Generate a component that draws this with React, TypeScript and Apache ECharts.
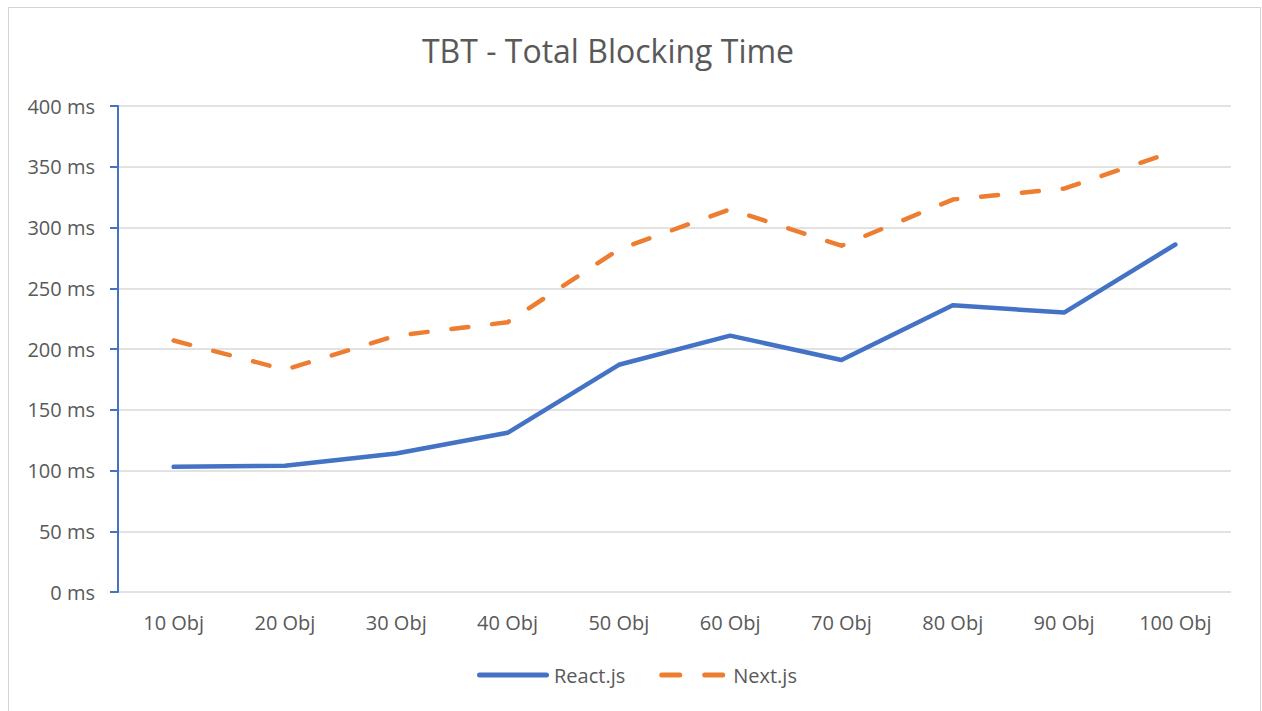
import React, { useEffect, useRef } from "react";
import * as echarts from "echarts";

const categories = ["10 Obj", "20 Obj", "30 Obj", "40 Obj", "50 Obj", "60 Obj", "70 Obj", "80 Obj", "90 Obj", "100 Obj"];
const reactValues = [103, 104, 114, 131, 187, 211, 191, 236, 230, 286];
const nextValues = [207, 183, 211, 222, 282, 315, 285, 323, 332, 363];
const titleText = "TBT - Total Blocking Time";
const FONT = "'Open Sans', 'Noto Sans', sans-serif";
const TEXT = "#595959";

const SOLID_ICON = "path://M2.5 0H69.5A2.5 2.5 0 0 1 69.5 5H2.5A2.5 2.5 0 0 1 2.5 0Z";
const DASH_ICON =
  "path://M2.5 0H20.5A2.5 2.5 0 0 1 20.5 5H2.5A2.5 2.5 0 0 1 2.5 0Z M45.5 0H63.5A2.5 2.5 0 0 1 63.5 5H45.5A2.5 2.5 0 0 1 45.5 0Z";

export default function App() {
  const ref = useRef<HTMLDivElement>(null);
  useEffect(() => {
    if (!ref.current) return;
    const chart = echarts.init(ref.current, null, { renderer: "svg" });
    chart.setOption({
      animation: false,
      textStyle: { fontFamily: FONT },
      graphic: [
        {
          type: "text",
          x: 599,
          y: 42,
          style: {
            text: titleText,
            textAlign: "center",
            textVerticalAlign: "middle",
            fontSize: 32,
            fontFamily: FONT,
            fill: TEXT,
          },
        },
      ],
      legend: {
        left: 468,
        top: 657,
        padding: 0,
        itemWidth: 72,
        itemHeight: 5,
        itemGap: 34,
        textStyle: { fontSize: 20, color: TEXT, fontFamily: FONT },
        data: [
          { name: "React.js", icon: SOLID_ICON, itemStyle: { color: "#4472C4" } },
          { name: "Next.js", icon: DASH_ICON, itemStyle: { color: "#ED7D31" } },
        ],
      },
      grid: { left: 109, top: 98, width: 1113, height: 486 },
      xAxis: {
        type: "category",
        data: categories,
        boundaryGap: true,
        axisLine: { show: false },
        axisTick: { show: false },
        axisLabel: { fontSize: 20, color: TEXT, margin: 20, fontFamily: FONT },
      },
      yAxis: {
        type: "value",
        min: 0,
        max: 400,
        interval: 50,
        axisLine: { show: true, lineStyle: { color: "#4472C4", width: 2 } },
        axisTick: { show: true, length: 8, lineStyle: { color: "#4472C4", width: 2 } },
        axisLabel: {
          fontSize: 20,
          color: TEXT,
          margin: 23,
          fontFamily: FONT,
          formatter: (v: number) => `${v} ms`,
        },
        splitLine: { show: true, lineStyle: { color: "#d9d9d9", width: 1.5 } },
      },
      series: [
        {
          name: "React.js",
          type: "line",
          data: reactValues,
          symbol: "none",
          lineStyle: { color: "#4472C4", width: 4.5, cap: "round", join: "round" },
          itemStyle: { color: "#4472C4" },
        },
        {
          name: "Next.js",
          type: "line",
          data: nextValues,
          symbol: "none",
          lineStyle: { color: "#ED7D31", width: 4.5, type: [17, 24], cap: "round", join: "round" },
          itemStyle: { color: "#ED7D31" },
        },
      ],
    });
    return () => chart.dispose();
  }, []);
  return (
    <div
      style={{
        position: "absolute",
        left: 8,
        top: 7,
        width: 1253,
        height: 720,
        border: "1px solid #d4d4d4",
        boxSizing: "border-box",
        background: "#fff",
      }}
    >
      <div ref={ref} style={{ width: 1251, height: 718 }} />
    </div>
  );
}
